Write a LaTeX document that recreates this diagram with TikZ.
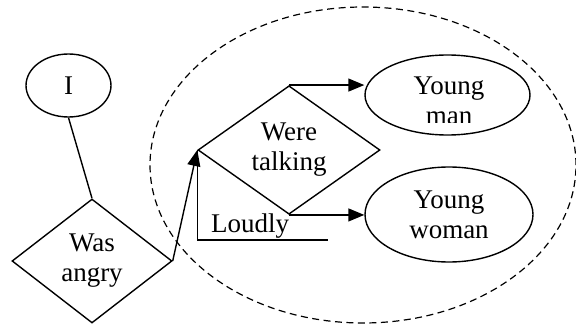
\documentclass[tikz,border=0pt]{standalone}
\usepackage{fontspec}
\setmainfont{Liberation Serif}
\usetikzlibrary{shapes.geometric,arrows.meta}
\tikzset{
  ln/.style={line width=1.4pt},
  txt/.style={font=\fontsize{27}{30}\selectfont, align=center, inner sep=0pt},
  ell/.style={ellipse, draw, ln, txt},
  dia/.style={diamond, draw, ln, txt},
  arr/.style={ln, -{Triangle[length=16pt,width=13pt]}},
}
\begin{document}
\begin{tikzpicture}[x=1pt,y=-1pt]
\useasboundingbox (0,0) rectangle (576,326);
% dashed group
\node[ellipse, draw, line width=1.2pt, dash pattern=on 7pt off 4.5pt, minimum width=426pt, minimum height=316pt] (grp) at (363,165) {};
% nodes
\node[ell, minimum width=85pt, minimum height=63pt] (i) at (68.5,85.5) {I};
\node[dia, minimum width=160pt, minimum height=124pt] (wa) at (92,261) {Was\\angry};
\node[dia, minimum width=182pt, minimum height=126pt] (wt) at (289,150) {Were\\talking};
\node[ell, minimum width=165pt, minimum height=80pt] (ym) at (447.5,95) {};
\begin{scope}
\clip (0,0) rectangle (576,123);
\node[txt] (ymt) at (449,100.5) {Young\\man};
\end{scope}
\node[ell, minimum width=168pt, minimum height=95pt] (yw) at (449,214.5) {Young\\woman};
% Loudly
\coordinate (lend) at (328,240);
\node[txt, anchor=base] (loud) at (250,233) {Loudly};
% connectors
\draw[ln] (i.south) -- (wa.north);
\draw[arr] (wa.east) -- (wt.west);
\draw[arr] (wt.north) -- (wt.north -| ym.west);
\draw[arr] (wt.south) -- (wt.south -| yw.west);
\draw[ln] (wt.west) |- (lend);
\end{tikzpicture}
\end{document}
